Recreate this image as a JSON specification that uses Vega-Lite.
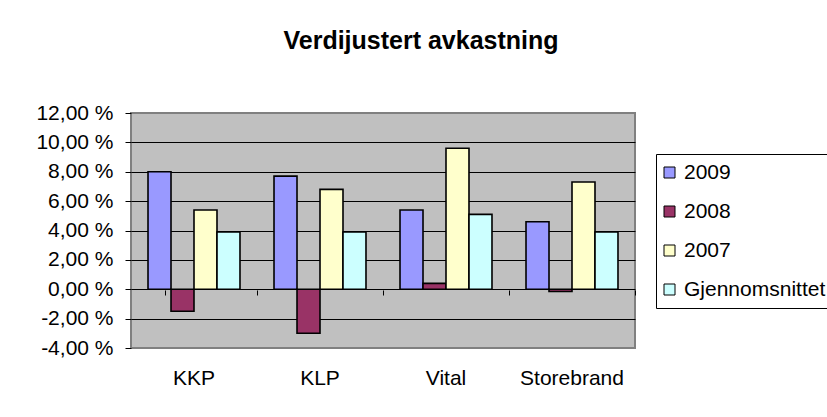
{
  "$schema": "https://vega.github.io/schema/vega-lite/v6.json",
  "width": 504,
  "height": 235,
  "autosize": {"type": "none"},
  "padding": {"left": 131, "top": 113, "right": 192, "bottom": 69},
  "background": "white",
  "config": {
    "font": "Liberation Sans",
    "view": {"fill": "#c0c0c0", "stroke": "#808080", "strokeWidth": 2}
  },
  "title": {
    "text": "Verdijustert avkastning",
    "fontSize": 25,
    "fontWeight": "bold",
    "color": "black",
    "anchor": "middle",
    "dx": 38,
    "offset": 48
  },
  "data": {
    "values": [
      {"selskap": "KKP", "serie": "2009", "verdi": 8.0},
      {"selskap": "KKP", "serie": "2008", "verdi": -1.5},
      {"selskap": "KKP", "serie": "2007", "verdi": 5.4},
      {"selskap": "KKP", "serie": "Gjennomsnittet", "verdi": 3.9},
      {"selskap": "KLP", "serie": "2009", "verdi": 7.7},
      {"selskap": "KLP", "serie": "2008", "verdi": -3.0},
      {"selskap": "KLP", "serie": "2007", "verdi": 6.8},
      {"selskap": "KLP", "serie": "Gjennomsnittet", "verdi": 3.9},
      {"selskap": "Vital", "serie": "2009", "verdi": 5.4},
      {"selskap": "Vital", "serie": "2008", "verdi": 0.4},
      {"selskap": "Vital", "serie": "2007", "verdi": 9.6},
      {"selskap": "Vital", "serie": "Gjennomsnittet", "verdi": 5.1},
      {"selskap": "Storebrand", "serie": "2009", "verdi": 4.6},
      {"selskap": "Storebrand", "serie": "2008", "verdi": -0.15},
      {"selskap": "Storebrand", "serie": "2007", "verdi": 7.3},
      {"selskap": "Storebrand", "serie": "Gjennomsnittet", "verdi": 3.9}
    ]
  },
  "layer": [
    {
      "mark": {"type": "bar", "stroke": "black", "strokeWidth": 1.6},
      "encoding": {
        "x": {
          "field": "selskap",
          "type": "nominal",
          "sort": ["KKP", "KLP", "Vital", "Storebrand"],
          "scale": {"paddingInner": 0.27, "paddingOuter": 0.135},
          "axis": {
            "orient": "bottom",
            "title": null,
            "labelAngle": 0,
            "labelFontSize": 21,
            "labelColor": "black",
            "labelPadding": 19,
            "ticks": false,
            "domain": false,
            "grid": false
          }
        },
        "xOffset": {
          "field": "serie",
          "type": "nominal",
          "sort": ["2009", "2008", "2007", "Gjennomsnittet"],
          "scale": {"paddingInner": 0, "paddingOuter": 0}
        },
        "y": {
          "field": "verdi",
          "type": "quantitative",
          "scale": {"domain": [-4, 12], "nice": false, "zero": false},
          "axis": {
            "orient": "left",
            "title": null,
            "values": [-4, -2, 0, 2, 4, 6, 8, 10, 12],
            "labelOverlap": false,
            "labelExpr": "replace(replace(format(datum.value, '.2f'), '.', ','), '−', '-') + ' %'",
            "labelFontSize": 21,
            "labelColor": "black",
            "labelPadding": 12,
            "tickColor": "black",
            "tickSize": 6,
            "domain": false,
            "grid": true,
            "gridColor": {"condition": {"test": "datum.value == 12 || datum.value == -4", "value": "#808080"}, "value": "black"},
            "gridOpacity": 1,
            "gridWidth": 1
          }
        },
        "color": {
          "field": "serie",
          "type": "nominal",
          "sort": ["2009", "2008", "2007", "Gjennomsnittet"],
          "scale": {
            "domain": ["2009", "2008", "2007", "Gjennomsnittet"],
            "range": ["#9999ff", "#993366", "#ffffcc", "#ccffff"]
          },
          "legend": {
            "title": null,
            "orient": "none",
            "legendX": 525,
            "legendY": 41,
            "strokeColor": "black",
            "fillColor": "white",
            "padding": 8,
            "symbolType": "square",
            "symbolSize": 121,
            "symbolOffset": -5,
            "symbolStrokeColor": "black",
            "symbolStrokeWidth": 1,
            "symbolOpacity": 1,
            "labelFontSize": 21,
            "labelColor": "black",
            "labelOffset": 4,
            "rowPadding": 17,
            "labelLimit": 300
          }
        }
      }
    },
    {
      "mark": {"type": "point", "opacity": 0},
      "encoding": {
        "x": {
          "field": "selskap",
          "type": "nominal",
          "sort": ["KKP", "KLP", "Vital", "Storebrand"],
          "axis": {
            "orient": "bottom",
            "title": null,
            "labels": false,
            "domain": false,
            "grid": false,
            "ticks": true,
            "tickColor": "black",
            "tickSize": 5,
            "bandPosition": 1,
            "tickOffset": 17,
            "tickExtra": true,
            "offset": -58
          }
        },
        "y": {"datum": 0, "type": "quantitative", "axis": null}
      }
    }
  ],
  "resolve": {"axis": {"x": "independent", "y": "independent"}}
}
